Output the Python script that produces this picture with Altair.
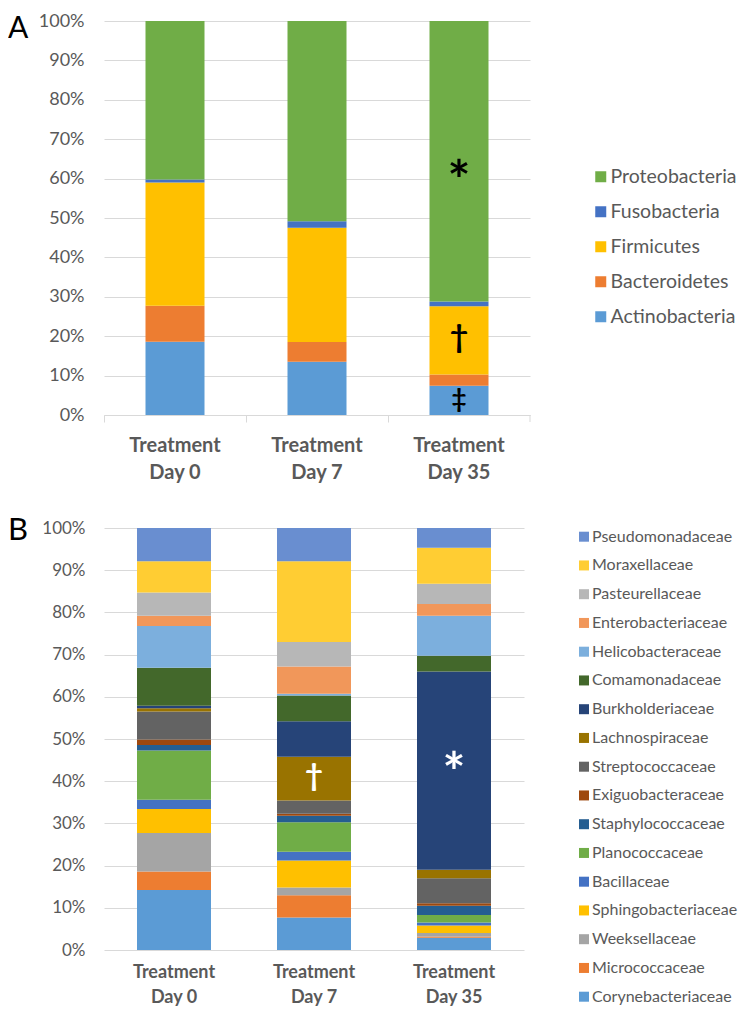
import altair as alt
import pandas as pd

FONT = "Lato"
GRID = "#D9D9D9"
TXT = "#595959"

days = ["Day 0", "Day 7", "Day 35"]

# Panel A (phyla), listed bottom to top of each stack
phyla = ["Actinobacteria", "Bacteroidetes", "Firmicutes", "Fusobacteria", "Proteobacteria"]
phyla_colors = ["#5B9BD5", "#ED7D31", "#FFC000", "#4472C4", "#70AD47"]
phyla_day0 = [18.6, 9.1, 31.3, 0.8, 40.2]
phyla_day7 = [13.5, 5.0, 29.0, 1.7, 50.8]
phyla_day35 = [7.4, 2.9, 17.3, 1.2, 71.2]

# Panel B (families), listed bottom to top of each stack
families = ["Corynebacteriaceae", "Micrococcaceae", "Weeksellaceae", "Sphingobacteriaceae",
            "Bacillaceae", "Planococcaceae", "Staphylococcaceae", "Exiguobacteraceae",
            "Streptococcaceae", "Lachnospiraceae", "Burkholderiaceae", "Comamonadaceae",
            "Helicobacteraceae", "Enterobacteriaceae", "Pasteurellaceae", "Moraxellaceae",
            "Pseudomonadaceae"]
family_colors = ["#5B9BD5", "#ED7D31", "#A5A5A5", "#FFC000", "#4472C4", "#70AD47",
                 "#255E91", "#9E480E", "#636363", "#997300", "#264478", "#43682B",
                 "#7CAFDD", "#F1975A", "#B7B7B7", "#FFCD33", "#698ED0"]
family_day0 = [14.2, 4.4, 9.1, 5.7, 2.2, 11.7, 1.3, 1.3, 6.6, 0.8, 0.6, 9.0, 9.9, 2.4, 5.5, 7.4, 7.9]
family_day7 = [7.7, 5.3, 1.8, 6.4, 2.1, 7.0, 1.5, 0.5, 3.1, 10.4, 8.4, 6.1, 0.4, 6.5, 5.8, 19.1, 7.9]
family_day35 = [2.9, 0.3, 0.8, 1.8, 0.7, 1.8, 2.2, 0.6, 5.9, 2.0, 47.0, 3.7, 9.5, 2.8, 4.8, 8.5, 4.7]

# significance markers
ann_a_day = ["Day 35", "Day 35", "Day 35"]
ann_a_text = ["*", "†", "‡"]
ann_a_y = [54.8, 16.9, 1.8]
ann_a_fs = [54, 32, 26]

ann_b_day = ["Day 7", "Day 35"]
ann_b_text = ["†", "*"]
ann_b_y = [38.8, 37.6]
ann_b_fs = [31, 54]


def make_df(cats, field, series):
    rows = []
    for d, vals in zip(days, series):
        for i, (c, v) in enumerate(zip(cats, vals)):
            rows.append({"day": d, field: c, "value": v, "idx": i})
    return pd.DataFrame(rows)


dfA = make_df(phyla, "phylum", [phyla_day0, phyla_day7, phyla_day35])
dfB = make_df(families, "family", [family_day0, family_day7, family_day35])
annA = pd.DataFrame({"day": ann_a_day, "t": ann_a_text, "value": ann_a_y, "fs": ann_a_fs})
annB = pd.DataFrame({"day": ann_b_day, "t": ann_b_text, "value": ann_b_y, "fs": ann_b_fs})


def x_axis(fs, lh, pad, ticks):
    if ticks:
        return alt.Axis(labelExpr="['Treatment', datum.label]", labelAngle=0, labelFont=FONT,
                        labelFontSize=fs, labelFontWeight="bold", labelColor=TXT,
                        labelLineHeight=lh, labelBaseline="top", labelPadding=pad,
                        ticks=True, tickColor=GRID, tickSize=7, bandPosition=0,
                        domain=True, domainColor=GRID, grid=False)
    return alt.Axis(labelExpr="['Treatment', datum.label]", labelAngle=0, labelFont=FONT,
                    labelFontSize=fs, labelFontWeight="bold", labelColor=TXT,
                    labelLineHeight=lh, labelBaseline="top", labelPadding=pad,
                    ticks=False, tickSize=0, domain=False, grid=False)


def y_axis(fs, pad):
    return alt.Axis(values=list(range(0, 101, 10)), labelExpr="datum.value + '%'",
                    labelFont=FONT, labelFontSize=fs, labelColor=TXT, labelPadding=pad,
                    domain=False, ticks=False, grid=True, gridColor=GRID, gridWidth=1)


def x_enc(ax):
    return alt.X("day:N", sort=days, title=None,
                 scale=alt.Scale(domain=days, paddingInner=0, paddingOuter=0), axis=ax)


def y_enc(ax, stack):
    return alt.Y("value:Q", stack=stack, title=None, scale=alt.Scale(domain=[0, 100]), axis=ax)


# ---------- Panel A ----------
WA, HA = 426, 394
axXA = x_axis(20, 27, 13, True)
axYA = y_axis(18, 20)
barsA = alt.Chart(dfA).mark_bar(size=59, strokeWidth=0).encode(
    x=x_enc(axXA),
    y=y_enc(axYA, "zero"),
    color=alt.Color("phylum:N", scale=alt.Scale(domain=phyla[::-1], range=phyla_colors[::-1]),
                    legend=alt.Legend(title=None, orient="none", legendX=487, legendY=146,
                                      symbolType="square", symbolSize=121, symbolStrokeWidth=0,
                                      labelFont=FONT, labelFontSize=19.5, labelColor=TXT,
                                      labelOffset=0, rowPadding=14, padding=0)),
    order=alt.Order("idx:Q", sort="ascending"),
)
endTickA = alt.Chart(pd.DataFrame({"k": [0]})).mark_rule(color=GRID, strokeWidth=1).encode(
    x=alt.value(WA), y=alt.value(HA), y2=alt.value(HA + 7))
textA = alt.Chart(annA).mark_text(font=FONT, fontWeight="bold", color="black",
                                  baseline="alphabetic", align="center").encode(
    x=x_enc(axXA),
    y=y_enc(axYA, None),
    text="t:N",
    size=alt.Size("fs:Q", scale=None, legend=None),
)
letterA = alt.Chart(pd.DataFrame({"t": ["A"]})).mark_text(
    font=FONT, fontSize=30, color="black", align="left", baseline="alphabetic").encode(
    text="t:N", x=alt.value(-96), y=alt.value(17))
panelA = alt.layer(barsA, endTickA, textA, letterA).properties(width=WA, height=HA)

# ---------- Panel B ----------
WB, HB = 420, 422
axXB = x_axis(18, 25, 13, False)
axYB = y_axis(17, 19)
barsB = alt.Chart(dfB).mark_bar(size=74, strokeWidth=0).encode(
    x=x_enc(axXB),
    y=y_enc(axYB, "zero"),
    color=alt.Color("family:N", scale=alt.Scale(domain=families[::-1], range=family_colors[::-1]),
                    legend=alt.Legend(title=None, orient="none", legendX=472, legendY=0.7,
                                      symbolType="square", symbolSize=100, symbolStrokeWidth=0,
                                      labelFont=FONT, labelFontSize=16, labelColor=TXT,
                                      labelOffset=0, rowPadding=12.75, padding=0)),
    order=alt.Order("idx:Q", sort="ascending"),
)
textB = alt.Chart(annB).mark_text(font=FONT, fontWeight="bold", color="white",
                                  baseline="alphabetic", align="center").encode(
    x=x_enc(axXB),
    y=y_enc(axYB, None),
    text="t:N",
    size=alt.Size("fs:Q", scale=None, legend=None),
)
letterB = alt.Chart(pd.DataFrame({"t": ["B"]})).mark_text(
    font=FONT, fontSize=31, color="black", align="left", baseline="alphabetic").encode(
    text="t:N", x=alt.value(-96), y=alt.value(12))
panelB = alt.layer(barsB, textB, letterB).properties(width=WB, height=HB)

chart = alt.vconcat(panelA, panelB, spacing=33).resolve_scale(
    color="independent").resolve_legend(color="independent").properties(
    padding={"top": 4, "left": 0, "right": 0, "bottom": 0}
).configure(font=FONT).configure_view(strokeWidth=0)

chart.save("out.html", embed_options={"renderer": "svg", "actions": False})
